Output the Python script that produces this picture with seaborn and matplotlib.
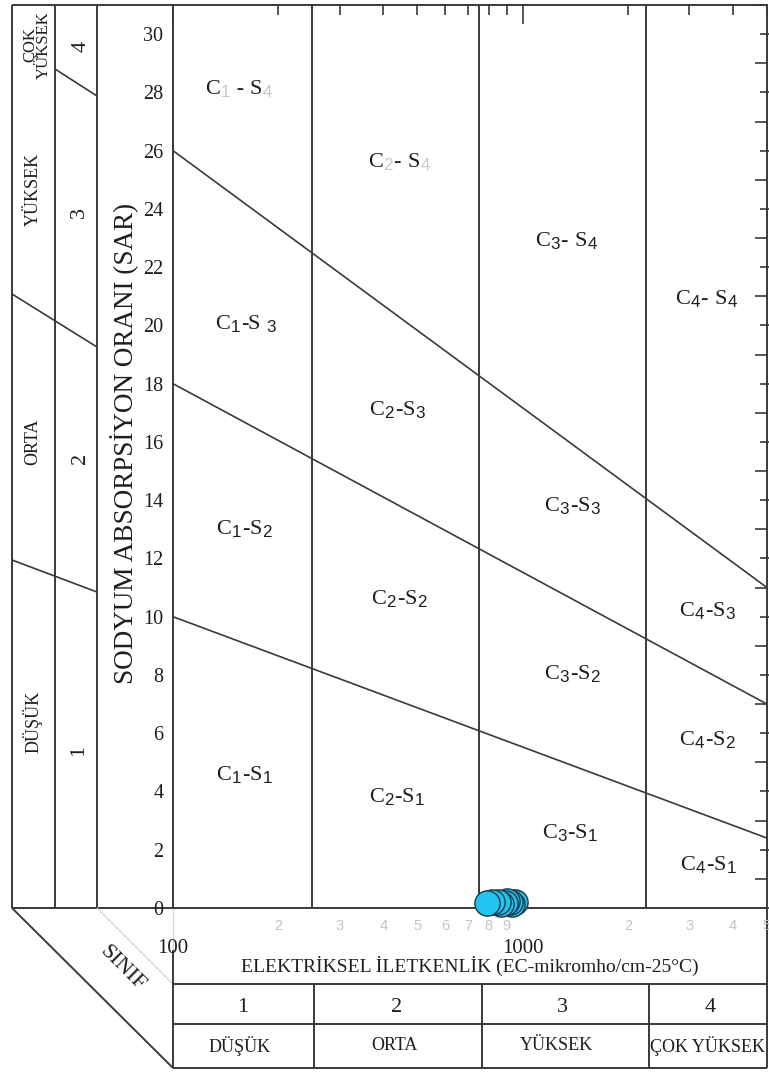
import matplotlib
matplotlib.use("Agg")
import numpy as np
import pandas as pd
import matplotlib.pyplot as plt
import seaborn as sns
from matplotlib.font_manager import FontProperties
from matplotlib.offsetbox import TextArea, HPacker, AnnotationBbox
from matplotlib.ticker import FixedLocator, FixedFormatter, MultipleLocator

sns.set_theme(style="white")
plt.rcParams["font.family"] = ["Liberation Serif", "DejaVu Serif"]
plt.rcParams["mathtext.fontset"] = "custom"
plt.rcParams["mathtext.rm"] = "Liberation Sans"
plt.rcParams["mathtext.it"] = "Liberation Sans:italic"
plt.rcParams["mathtext.bf"] = "Liberation Sans:bold"

# ---- water samples (EC in micromho/cm, SAR) ----
ec_samples = [948, 935, 920, 905, 890, 870, 850, 820, 790]
sar_samples = [0.20, 0.15, 0.20, 0.25, 0.18, 0.15, 0.22, 0.20, 0.17]

# ---- diagram limits and class boundaries ----
ec_range = [100, 5000]
sar_range = [0, 31]
ec_class_limits = [250, 750, 2250]
# SAR boundary lines between sodium classes, values at EC=100 and EC=5000
sar_s1_s2 = [10.0, 2.4]
sar_s2_s3 = [18.0, 7.0]
sar_s3_s4 = [26.0, 11.0]

sar_ticks = list(range(0, 31, 2))
ec_major_ticks = [100, 1000]
ec_major_labels = ["100", "1000"]
ec_minor_ticks = [200, 300, 400, 500, 600, 700, 800, 900, 2000, 3000, 4000, 5000]
ec_minor_labels = ["2", "3", "4", "5", "6", "7", "8", "9", "2", "3", "4", "5"]

class_numbers = ["1", "2", "3", "4"]
class_names = ["DÜŞÜK", "ORTA", "YÜKSEK", "ÇOK YÜKSEK"]

# region labels: (C class, S class, separator, second separator, faded subscripts)
region_labels = [
    ("1", "4", " - ", "", True), ("2", "4", "- ", "", True), ("3", "4", "- ", "", False), ("4", "4", "- ", "", False),
    ("1", "3", "-", " ", False), ("2", "3", "-", "", False), ("3", "3", "-", "", False), ("4", "3", "-", "", False),
    ("1", "2", "-", "", False), ("2", "2", "-", "", False), ("3", "2", "-", "", False), ("4", "2", "-", "", False),
    ("1", "1", "-", "", False), ("2", "1", "-", "", False), ("3", "1", "-", "", False), ("4", "1", "-", "", False),
]
# label anchor points (EC, SAR)
region_pos = [
    (155, 28.1), (445, 25.6), (1336, 22.9), (3355, 20.9),
    (162, 20.05), (439, 17.1), (1389, 13.8), (3378, 10.2),
    (160, 13.0), (445, 10.6), (1389, 8.05), (3378, 5.76),
    (160, 4.56), (437, 3.8), (1365, 2.57), (3400, 1.47),
]

W, H = 769, 1072
LINE = "#3a3a3a"
INK = "#1e1e1e"
FADE = "#c8c8c8"

fig = plt.figure(figsize=(W / 100, H / 100), dpi=100)

# frame for the class columns and table, in pixel units
deco = fig.add_axes([0, 0, 1, 1], zorder=0)
deco.set_xlim(0, W)
deco.set_ylim(H, 0)
deco.axis("off")

L, R, T, B = 173, 767, 5, 908
ax = fig.add_axes([L / W, 1 - B / H, (R - L) / W, (B - T) / H], zorder=2)
ax.patch.set_alpha(0)
ax.set_xscale("log")
ax.set_xlim(*ec_range)
ax.set_ylim(*sar_range)

def seg(x0, y0, x1, y1, color=LINE, lw=1.4):
    deco.plot([x0, x1], [y0, y1], color=color, lw=lw, solid_capstyle="butt")

# left class columns
for x in (12, 55, 97):
    seg(x, T, x, B)
seg(12, T, L, T)
seg(12, B, L, B)
seg(55, 69, 97, 96, lw=1.2)
seg(12, 294, 97, 347, lw=1.2)
seg(12, 560, 97, 592, lw=1.2)

# corner and bottom table
seg(12, B, L, 1068)
seg(97, B, L, 984, color="#d9d9d9", lw=1.0)
seg(L, B, L, 950, color="#d9d9d9", lw=1.0)
seg(L, 950, L, 1068)
for y in (984, 1024, 1068):
    seg(L, y, R, y)
for x in (314, 482, 649):
    seg(x, 984, x, 1068)
seg(R, B, R, 1068)

# left column labels
deco.text(37, 45, "ÇOK\nYÜKSEK", rotation=90, ha="center", va="center",
          fontsize=12, linespacing=0.85, color=INK)
for txt, yc in zip(["YÜKSEK", "ORTA", "DÜŞÜK"], (189, 442, 722)):
    deco.text(33, yc, txt, rotation=90, ha="center", va="center", fontsize=13, color=INK)
for txt, (xc, yc) in zip(class_numbers[::-1], ((81, 46), (79, 213), (81, 458), (79, 750))):
    deco.text(xc, yc, txt, rotation=90, ha="center", va="center", fontsize=16, color=INK)

# bottom table labels
for txt, xc in zip(class_numbers, (243, 397, 562, 710)):
    deco.text(xc, 1008, txt, ha="center", va="center", fontsize=16, color=INK)
for txt, xc in zip(class_names, (240, 394, 556, 708)):
    deco.text(xc, 1046, txt, ha="center", va="center", fontsize=13, color=INK)

deco.text(122, 968, "SINIF", rotation=-45, ha="center", va="center", fontsize=16, color=INK)
deco.text(125, 443, "SODYUM ABSORPSİYON ORANI (SAR)", rotation=90,
          ha="center", va="center", fontsize=19.5, color=INK)
deco.text(470, 966, "ELEKTRİKSEL İLETKENLİK (EC-mikromho/cm-25°C)",
          ha="center", va="center", fontsize=14, color=INK)

# class boundaries inside the diagram
for ec in ec_class_limits:
    ax.plot([ec, ec], sar_range, color=LINE, lw=1.4)
for line in (sar_s1_s2, sar_s2_s3, sar_s3_s4):
    ax.plot(ec_range, line, color=LINE, lw=1.2)

for sp in ax.spines.values():
    sp.set_color(LINE)
    sp.set_linewidth(1.4)

# axis ticks
ax.set_yticks(sar_ticks)
ax.yaxis.set_minor_locator(MultipleLocator(1))
ax.tick_params(axis="y", which="major", direction="inout", length=10, width=1.2,
               labelsize=14.5, pad=2, colors=LINE, labelcolor=INK, right=True)
ax.tick_params(axis="y", which="minor", left=False, right=True, direction="in",
               length=9, width=1.2, colors=LINE)

ax.xaxis.set_major_locator(FixedLocator(ec_major_ticks))
ax.xaxis.set_major_formatter(FixedFormatter(ec_major_labels))
ax.xaxis.set_minor_locator(FixedLocator(ec_minor_ticks))
ax.xaxis.set_minor_formatter(FixedFormatter(ec_minor_labels))
ax.tick_params(axis="x", which="major", direction="in", length=14, width=1.2,
               labelsize=15, pad=22, colors=LINE, labelcolor=INK, top=True)
ax.tick_params(axis="x", which="minor", direction="in", length=7, width=1.2,
               labelsize=10.5, pad=8, colors=LINE, labelcolor="#c4c4c4", top=True)
for lab in ax.xaxis.get_minorticklabels():
    lab.set_fontfamily("Liberation Sans")

# region labels with subscripts
serif_fp = FontProperties(family="Liberation Serif", size=16)
for (c, s, sep, gap, faded), (ex, sy) in zip(region_labels, region_pos):
    sub_col = FADE if faded else INK
    main = dict(fontproperties=serif_fp, color=INK)
    sub = dict(fontsize=17.5, color=sub_col)
    parts = [
        TextArea("C", textprops=main),
        TextArea(r"$_{%s}$" % c, textprops=sub),
        TextArea(sep, textprops=main),
        TextArea("S" + gap, textprops=main),
        TextArea(r"$_{%s}$" % s, textprops=sub),
    ]
    box = HPacker(children=parts, align="baseline", pad=0, sep=0)
    ab = AnnotationBbox(box, (ex, sy), xycoords="data", frameon=False,
                        box_alignment=(0.5, 0.5), annotation_clip=False)
    ax.add_artist(ab)

# samples
df = pd.DataFrame({"EC": ec_samples, "SAR": sar_samples})
sns.scatterplot(data=df, x="EC", y="SAR", ax=ax, s=330, color="#20c4ee",
                edgecolor="#1b3a4c", linewidth=1.0, clip_on=False, zorder=6, legend=False)
ax.set_xlabel("")
ax.set_ylabel("")
ax.set_xlim(*ec_range)
ax.set_ylim(*sar_range)

fig.savefig("out.png", dpi=100)
